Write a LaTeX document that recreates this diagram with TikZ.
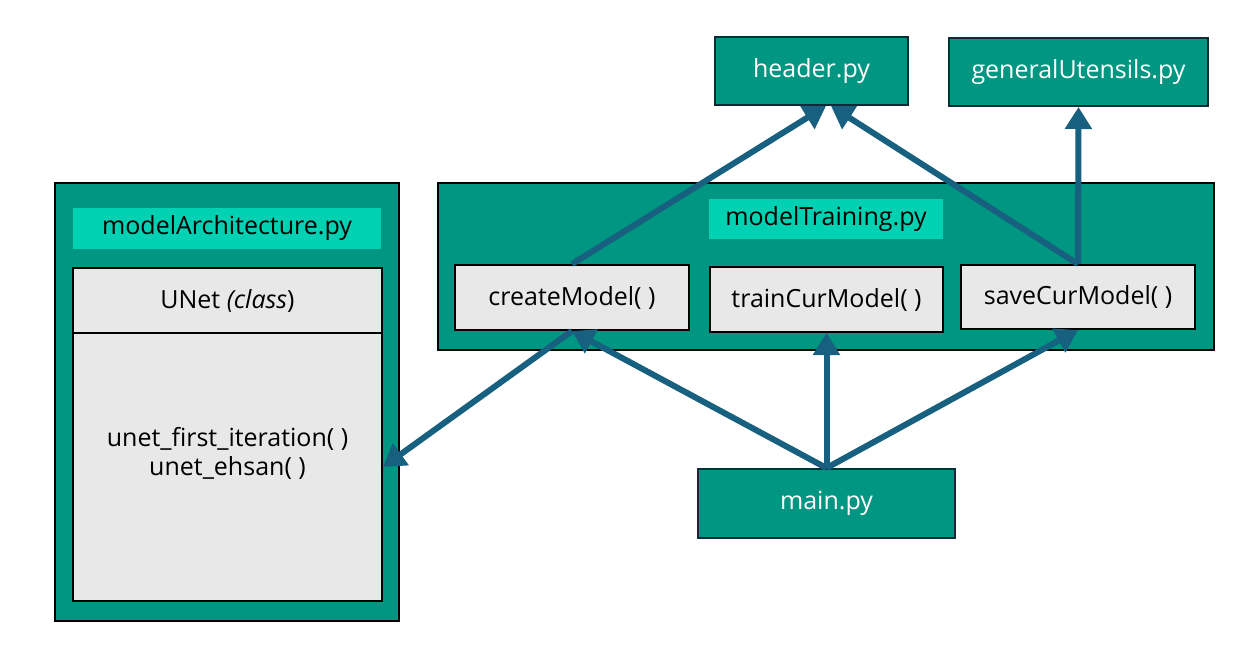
\documentclass[tikz,border=0pt]{standalone}
\usepackage{fontspec}
\setmainfont{Open Sans}
\usetikzlibrary{arrows.meta}

\definecolor{tealbox}{HTML}{009682}
\definecolor{tealtitle}{HTML}{00D1B2}
\definecolor{linkblue}{HTML}{17607F}
\definecolor{funcgray}{HTML}{E8E8E8}
\definecolor{darkedge}{HTML}{0E2A38}

\tikzset{
  pyfile/.style={draw=darkedge, line width=2pt, fill=tealbox, text=white, inner sep=0pt,
    font=\fontsize{25}{29}\selectfont},
  module/.style={draw=black, line width=2pt, fill=tealbox, inner sep=0pt},
  modtitle/.style={fill=tealtitle, inner sep=0pt, font=\fontsize{25}{29}\selectfont},
  func/.style={draw=black, line width=2pt, fill=funcgray, inner sep=0pt,
    font=\fontsize{25}{29}\selectfont},
  link/.style={draw=linkblue, line width=6pt, -{Triangle[length=22pt,width=26pt]}},
}

\begin{document}
\begin{tikzpicture}[x=1pt,y=-1pt]
\useasboundingbox (0,0) rectangle (1242,648);

% files on top
\node[pyfile, minimum width=193, minimum height=68] (header) at (811.5,71) {header.py};
\node[pyfile, minimum width=259, minimum height=68] (utens) at (1078.5,72) {generalUtensils.py};

% modelArchitecture.py
\node[module, minimum width=344, minimum height=438] (arch) at (227,402) {};
\node[modtitle, minimum width=308, minimum height=41] (archtitle) at (227,228.5) {modelArchitecture.py};
\node[func, minimum width=309, minimum height=66] (unet) at (227.5,301) {UNet \textit{(class})};
\node[func, minimum width=309, minimum height=268] (unetbody) at (227.5,467) {};
\node[font=\fontsize{25}{29}\selectfont, align=center] (methods) at (227.5,453)
  {unet\_first\_iteration( )\\unet\_ehsan( )};

% modelTraining.py
\node[module, minimum width=776, minimum height=167] (train) at (826,266.5) {};
\node[modtitle, minimum width=234, minimum height=40] (traintitle) at (826,219) {modelTraining.py};
\node[func, minimum width=234, minimum height=65] (create) at (572,297.5) {createModel( )};
\node[func, minimum width=233, minimum height=65] (traincur) at (826.5,299.5) {trainCurModel( )};
\node[func, minimum width=234, minimum height=64] (save) at (1078,297) {saveCurModel( )};

% main.py
\node[pyfile, minimum width=257, minimum height=69] (main) at (826.5,503.5) {main.py};

\coordinate (hleft) at (826,106);
\coordinate (hright) at (831,106);

\path[link] (create.north) -- (hleft);
\path[link] (save.north) -- (hright);
\path[link] (save.north) -- (utens.south);
\path[link] (main.north) -- (create.south);
\path[link] (main.north) -- (traincur.south);
\path[link] (main.north) -- (save.south);
\path[link] (create.south) -- (unetbody.east);
\end{tikzpicture}
\end{document}
